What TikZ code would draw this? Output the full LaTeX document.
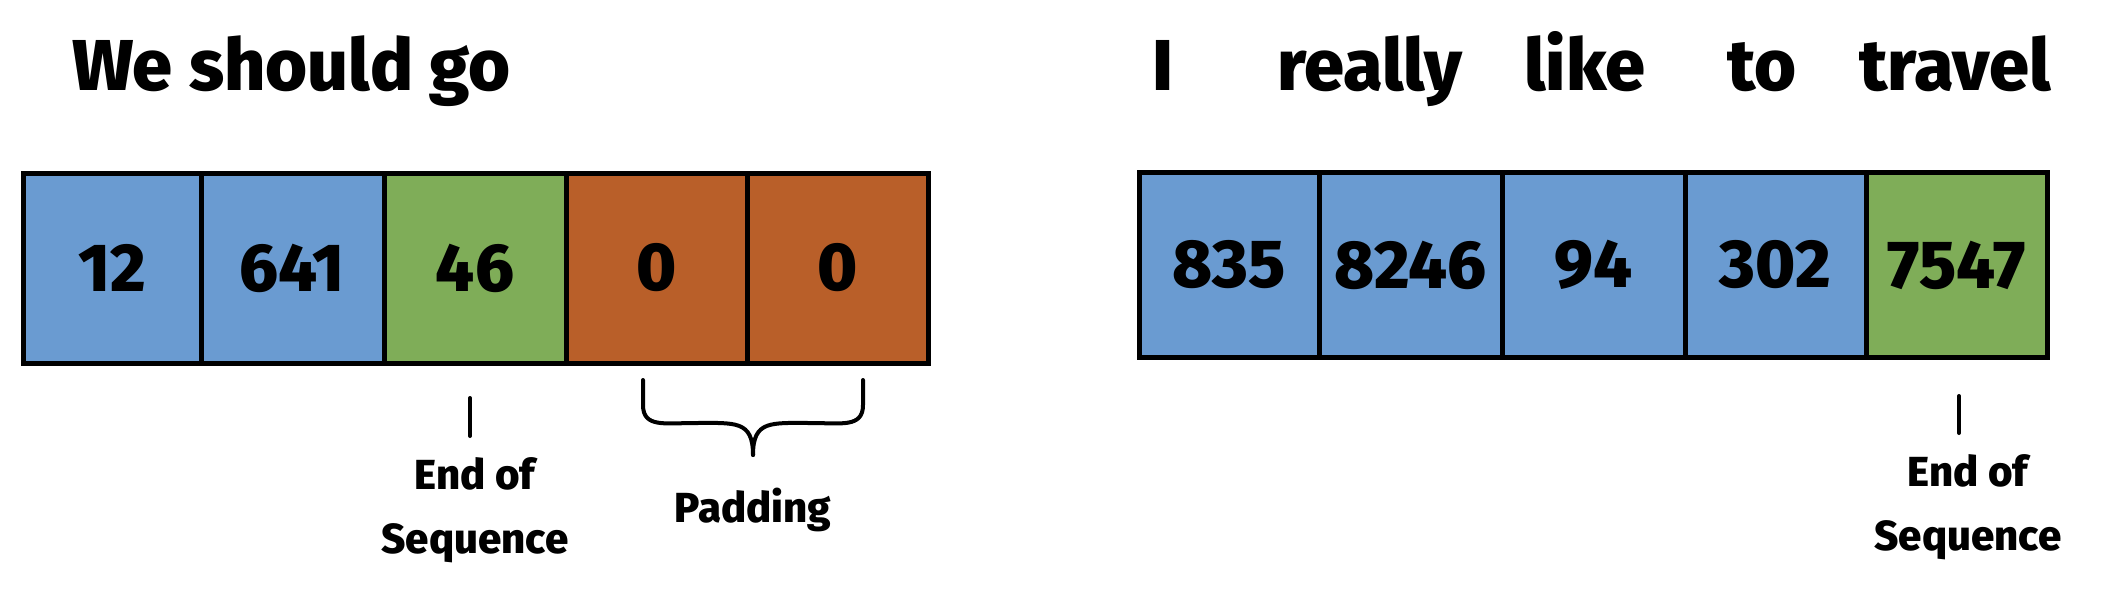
\documentclass[tikz,border=0pt]{standalone}
\usepackage{fontspec}
\setmainfont{Fira Sans}[UprightFont=* ExtraBold]
\begin{document}
\begin{tikzpicture}[x=1pt,y=-1pt,
  cell/.style={draw=black,line width=5pt,minimum width=180pt,minimum height=190pt,inner sep=0pt,font=\fontsize{68}{70}\selectfont},
  title/.style={anchor=base west,inner sep=0pt,font=\fontsize{72}{74}\selectfont},
  lbl/.style={align=center,inner sep=0pt,font=\fontsize{42}{64}\selectfont}]
\definecolor{cblue}{HTML}{6A9BD1}\definecolor{cgreen}{HTML}{7FAD58}\definecolor{corange}{HTML}{B95F29}
\useasboundingbox (0,0) rectangle (2118,592);
\node[title] (t1) at (72,90) {We should go};
\foreach \n/\xa/\xb/\c/\t in {a/23/201/cblue/12,b/201/384/cblue/641,c/384/566/cgreen/46,d/566/747/corange/0,e/747/928/corange/0}
  \node[cell,fill=\c,minimum width=\xb-\xa] (\n) at ({(\xa+\xb)/2},268) {\t};
\foreach \n/\x/\t in {r1/1152/I,r2/1277/really,r3/1524/like,r4/1727/to,r5/1859/travel}
  \node[title] (\n) at (\x,90) {\t};
\foreach \n/\xa/\xb/\c/\t in {p/1139/1319/cblue/835,q/1319/1502/cblue/8246,r/1502/1685/cblue/94,s/1685/1866/cblue/302,u/1866/2047/cgreen/7547}
  \node[cell,fill=\c,minimum width=\xb-\xa,minimum height=185pt] (\n) at ({(\xa+\xb)/2},265) {\t};
\coordinate (k1) at (470,398); \coordinate (k2) at (470,436);
\draw[line width=4pt,line cap=round] (k1) -- (k2);
\node[lbl] (eos1) at (475,510) {End of\\Sequence};
\coordinate (k3) at (1959,396); \coordinate (k4) at (1959,433);
\draw[line width=4pt,line cap=round] (k3) -- (k4);
\node[lbl] (eos2) at (1968,507) {End of\\Sequence};
\coordinate (b1) at (643,380); \coordinate (b2) at (863,380); \coordinate (bm) at (753,455);
\draw[line width=4pt,line cap=round] (b1) -- (643,405) .. controls (643,428) and (665,423) .. (695,423)
  .. controls (735,423) and (753,420) .. (bm);
\draw[line width=4pt,line cap=round] (b2) -- (863,405) .. controls (863,428) and (841,423) .. (811,423)
  .. controls (771,423) and (753,420) .. (bm);
\node[lbl,anchor=base] (pad) at (753,522) {Padding};
\end{tikzpicture}
\end{document}
